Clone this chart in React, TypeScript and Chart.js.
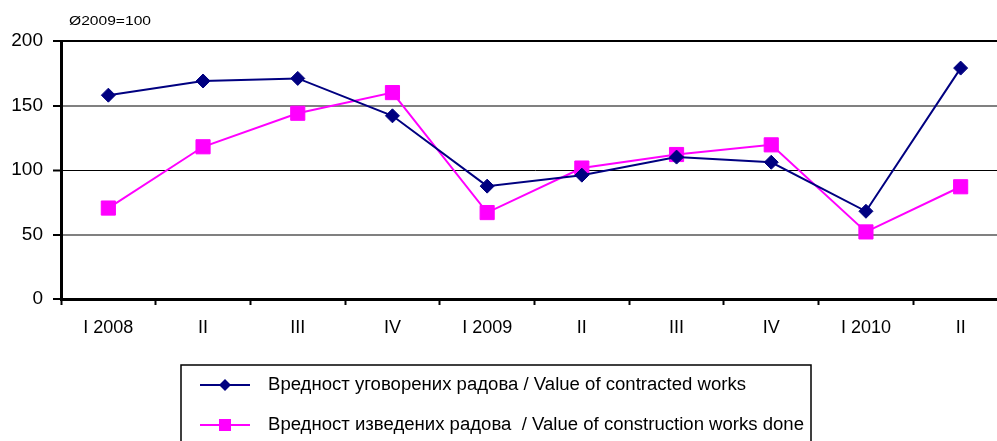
import React, { useEffect, useRef } from "react";
import { Chart, registerables } from "chart.js";

Chart.register(...registerables);

const categories = ["I 2008", "II", "III", "IV", "I 2009", "II", "III", "IV", "I 2010", "II"];
const contracted = [158, 169, 171, 142, 87.5, 96, 110, 106, 68, 179];
const done = [70.5, 118, 144, 160, 67, 101.5, 112, 119.5, 52, 87];
const seriesNames = [
  "Вредност уговорених радова / Value of contracted works",
  "Вредност изведених радова  / Value of construction works done",
];
const unitLabel = "Ø2009=100";

const FONT = '"Liberation Sans", Arial, sans-serif';

export default function App() {
  const ref = useRef<HTMLCanvasElement | null>(null);
  useEffect(() => {
    if (!ref.current) return;
    const extras = {
      id: "extras",
      afterDraw(chart: any) {
        const ctx = chart.ctx;
        ctx.save();
        ctx.fillStyle = "#000";
        ctx.font = `12px ${FONT}`;
        ctx.textBaseline = "middle";
        ctx.textAlign = "left";
        const tw = ctx.measureText(unitLabel).width;
        ctx.save();
        ctx.translate(69, 22);
        ctx.scale(82 / tw, 1);
        ctx.fillText(unitLabel, 0, 0);
        ctx.restore();
        // legend box
        ctx.strokeStyle = "#000";
        ctx.lineWidth = 1.5;
        ctx.strokeRect(181, 365, 630, 120);
        const rows = [
          { y: 385, color: "#000080", style: "diamond" },
          { y: 425, color: "#FF00FF", style: "square" },
        ];
        rows.forEach((r, i) => {
          ctx.strokeStyle = r.color;
          ctx.fillStyle = r.color;
          ctx.lineWidth = 2;
          ctx.beginPath();
          ctx.moveTo(200, r.y);
          ctx.lineTo(250, r.y);
          ctx.stroke();
          ctx.beginPath();
          if (r.style === "diamond") {
            ctx.moveTo(225, r.y - 6);
            ctx.lineTo(231, r.y);
            ctx.lineTo(225, r.y + 6);
            ctx.lineTo(219, r.y);
            ctx.closePath();
          } else {
            ctx.rect(219, r.y - 6, 12, 12);
          }
          ctx.fill();
          ctx.fillStyle = "#000";
          ctx.font = `18px ${FONT}`;
          ctx.textAlign = "left";
          ctx.textBaseline = "middle";
          const base = ctx.measureText(seriesNames[0]).width;
          const sx = 478 / base;
          ctx.save();
          ctx.translate(268, r.y);
          ctx.scale(sx, 1);
          ctx.fillText(seriesNames[i], 0, 0);
          ctx.restore();
        });
        ctx.restore();
      },
    };
    const chart = new Chart(ref.current, {
      type: "line",
      data: {
        labels: categories,
        datasets: [
          {
            label: seriesNames[0],
            data: contracted,
            borderColor: "#000080",
            backgroundColor: "#000080",
            borderWidth: 2,
            pointStyle: "rectRot",
            pointRadius: 7,
            pointBorderWidth: 1,
            tension: 0,
          },
          {
            label: seriesNames[1],
            data: done,
            borderColor: "#FF00FF",
            backgroundColor: "#FF00FF",
            borderWidth: 2,
            pointStyle: "rect",
            pointRadius: 10,
            pointBorderWidth: 1,
            tension: 0,
          },
        ],
      },
      options: {
        animation: false,
        responsive: false,
        layout: { padding: { top: 41, left: 0, right: 0, bottom: 0 } },
        plugins: { legend: { display: false }, tooltip: { enabled: false } },
        scales: {
          x: {
            offset: true,
            grid: {
              offset: true,
              drawOnChartArea: false,
              drawTicks: true,
              tickLength: 6,
              tickColor: "#000",
              tickWidth: 2,
            },
            border: { display: true, color: "#000", width: 3 },
            ticks: { color: "#000", font: { family: FONT, size: 18 }, padding: 12, maxRotation: 0, autoSkip: false },
            afterFit: (s: any) => {
              s.height = 142;
              s.paddingLeft = 0;
              s.paddingRight = 0;
            },
          },
          y: {
            min: 0,
            max: 200,
            ticks: { stepSize: 50, color: "#000", font: { family: FONT, size: 19 }, padding: 10 },
            grid: {
              color: (c: any) => {
                const v = c.tick?.value;
                return v === 150 || v === 50 ? "#808080" : "#000";
              },
              lineWidth: (c: any) => {
                const v = c.tick?.value;
                if (v === 100) return 1;
                return 2;
              },
              drawTicks: true,
              tickLength: 8,
              tickColor: "#000",
              tickWidth: 2,
            },
            border: { display: true, color: "#000", width: 3 },
            afterFit: (s: any) => {
              s.width = 61;
              s.paddingTop = 0;
              s.paddingBottom = 0;
            },
          },
        },
      },
      plugins: [extras],
    });
    return () => chart.destroy();
  }, []);
  return (
    <div style={{ position: "fixed", left: 0, top: 0, width: 1019, height: 441, background: "#fff" }}>
      <canvas ref={ref} width={1019} height={441} />
    </div>
  );
}
